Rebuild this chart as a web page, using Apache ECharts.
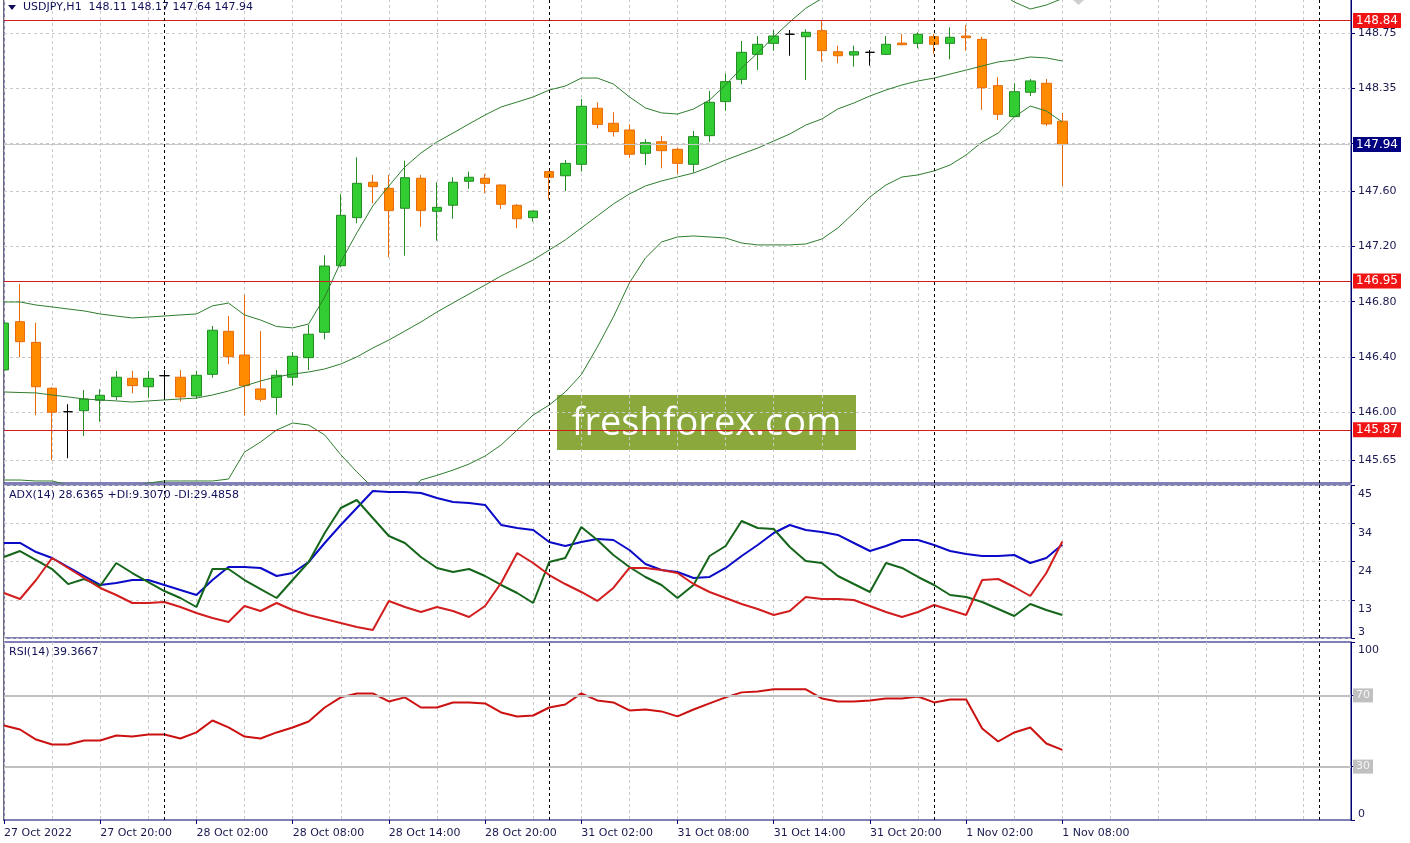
<!DOCTYPE html>
<html><head><meta charset="utf-8">
<script src="https://cdn.jsdelivr.net/npm/echarts@6/dist/echarts.min.js"></script>
<style>html,body{margin:0;padding:0;background:#fff;}#c{width:1410px;height:843px;}</style>
</head><body><div id="c"></div>
<script>
// ---------- DATA ----------
const chartTitle = 'USDJPY,H1  148.11 148.17 147.64 147.94';
const adxTitle = 'ADX(14) 28.6365 +DI:9.3070 -DI:29.4858';
const rsiTitle = 'RSI(14) 39.3667';
const watermark = 'freshforex.com';

const open  = [146.305,146.655,146.505,146.172,146.002,146.009,146.085,146.111,146.244,146.183,146.263,146.252,146.116,146.273,146.585,146.413,146.167,146.106,146.252,146.394,146.578,147.061,147.41,147.667,147.623,147.478,147.696,147.456,147.50,147.674,147.696,147.647,147.50,147.41,147.744,147.714,147.797,148.204,148.095,148.046,147.877,147.961,147.906,147.797,148.005,148.252,148.414,148.595,148.675,148.741,148.723,148.767,148.614,148.59,148.61,148.595,148.677,148.675,148.723,148.675,148.728,148.704,148.368,148.143,148.32,148.385,148.11];
const high  = [146.70,146.929,146.648,146.18,146.056,146.159,146.164,146.297,146.299,146.297,146.304,146.304,146.299,146.624,146.696,146.849,146.587,146.304,146.435,146.631,147.137,147.58,147.848,147.72,147.72,147.823,147.72,147.667,147.703,147.744,147.727,147.65,147.509,147.46,147.75,147.828,148.271,148.247,148.175,148.087,147.979,148.003,147.92,148.039,148.329,148.453,148.692,148.728,148.772,148.772,148.777,148.839,148.658,148.658,148.627,148.728,148.743,148.755,148.743,148.791,148.808,148.723,148.429,148.385,148.416,148.416,148.17];
const low   = [146.27,146.397,145.976,145.651,145.664,145.826,145.929,146.087,146.135,146.103,146.087,146.074,146.094,146.249,146.346,145.976,146.074,145.98,146.191,146.304,146.527,147.05,147.369,147.514,147.122,147.134,147.344,147.243,147.402,147.62,147.587,147.473,147.333,147.381,147.543,147.603,147.744,148.058,147.998,147.845,147.792,147.768,147.727,147.736,147.961,148.186,148.378,148.482,148.622,148.585,148.409,148.542,148.53,148.506,148.513,148.59,148.661,148.639,148.598,148.559,148.622,148.191,148.119,148.14,148.293,148.075,147.64];
const close = [146.645,146.51,146.183,145.998,146.002,146.094,146.121,146.252,146.191,146.244,146.263,146.109,146.266,146.593,146.401,146.191,146.092,146.266,146.404,146.564,147.059,147.427,147.659,147.635,147.461,147.70,147.461,147.485,147.667,147.703,147.659,147.507,147.402,147.458,147.703,147.804,148.218,148.087,148.034,147.87,147.954,147.896,147.804,147.998,148.247,148.397,148.61,148.668,148.728,148.741,148.755,148.622,148.585,148.614,148.61,148.668,148.665,148.741,148.668,148.719,148.716,148.353,148.16,148.324,148.402,148.09,147.94];

const bbUpper  = [146.798,146.798,146.776,146.762,146.747,146.733,146.711,146.696,146.682,146.689,146.696,146.704,146.711,146.77,146.79,146.704,146.667,146.62,146.61,146.638,146.834,147.088,147.299,147.495,147.64,147.778,147.879,147.959,148.024,148.09,148.155,148.213,148.249,148.286,148.336,148.365,148.423,148.423,148.38,148.286,148.206,148.17,148.162,148.198,148.264,148.373,148.496,148.605,148.721,148.83,148.93,149.0,149.06,149.04,149.03,149.03,149.04,149.08,149.1,149.11,149.1,149.06,149.05,148.975,148.924,148.953,149.0];
const bbMiddle = [146.145,146.141,146.138,146.123,146.109,146.094,146.087,146.08,146.072,146.08,146.087,146.094,146.101,146.123,146.152,146.188,146.225,146.254,146.275,146.29,146.312,146.348,146.399,146.464,146.522,146.587,146.653,146.725,146.791,146.856,146.921,146.987,147.045,147.103,147.175,147.248,147.335,147.422,147.509,147.582,147.64,147.676,147.705,147.734,147.778,147.828,147.872,147.915,147.966,148.017,148.082,148.126,148.199,148.242,148.293,148.336,148.373,148.402,148.423,148.452,148.481,148.511,148.54,148.554,148.576,148.569,148.547];
const bbLower  = [145.506,145.506,145.499,145.499,145.47,145.448,145.434,145.441,145.463,145.484,145.499,145.499,145.499,145.499,145.513,145.709,145.782,145.869,145.92,145.905,145.833,145.69,145.565,145.45,145.38,145.40,145.506,145.54,145.578,145.622,145.68,145.76,145.869,145.978,146.05,146.145,146.27,146.471,146.689,146.936,147.117,147.233,147.27,147.277,147.27,147.262,147.226,147.212,147.212,147.212,147.219,147.255,147.335,147.444,147.56,147.647,147.705,147.72,147.749,147.792,147.865,147.959,148.024,148.14,148.22,148.184,148.104];

const adxMain = [29.08,29.08,26.6,24.96,22.49,20.02,17.55,18.1,18.92,18.92,17.55,16.18,14.8,18.92,22.49,22.49,22.22,20.02,20.84,23.86,29.08,34.02,38.69,43.35,43.08,43.08,42.8,41.43,40.33,40.06,39.51,34.02,33.2,32.65,29.35,28.26,29.35,30.18,29.9,27.16,23.31,21.67,21.12,19.47,19.75,22.22,25.51,28.53,31.82,34.02,32.65,32.1,31.28,29.08,26.88,28.26,29.9,29.9,28.53,26.88,26.06,25.51,25.51,25.78,23.59,24.96,28.64];
const plusDI  = [25.24,26.88,24.41,21.94,17.8,19.2,17.28,23.59,20.84,18.37,15.9,13.98,11.51,21.94,21.94,18.92,16.45,13.98,18.92,23.86,31.82,38.69,40.88,35.94,31.0,29.08,25.24,22.22,21.12,21.94,20.02,17.55,15.35,12.61,23.86,24.96,33.47,29.9,25.78,22.49,19.75,17.55,13.98,17.55,25.51,28.26,35.12,33.2,32.92,27.98,24.14,23.59,20.02,17.82,15.63,23.59,22.22,19.75,17.55,14.8,14.26,12.88,10.96,9.04,12.33,10.69,9.31];
const minusDI = [15.35,13.71,18.92,24.96,22.22,19.47,16.73,14.8,12.61,12.61,12.88,11.51,9.86,8.49,7.39,11.79,10.41,12.61,10.69,9.31,8.22,7.12,6.02,5.2,13.16,11.51,10.14,11.51,10.41,8.77,11.79,18.1,26.33,23.59,20.29,17.82,15.63,13.16,16.73,22.22,22.22,21.67,20.84,17.82,15.63,13.98,12.33,10.96,9.31,10.41,14.26,13.71,13.71,13.43,11.79,10.14,8.77,10.14,12.06,10.69,9.31,18.92,19.2,17.0,14.53,20.84,29.49];
const rsi = [53.1,50.85,45.2,42.4,42.4,44.65,44.65,47.5,46.9,48.0,48.0,45.8,49.2,55.9,52.0,46.9,45.8,49.2,52.0,55.35,63.2,68.9,71.1,71.1,66.6,68.9,63.2,63.2,66.05,66.05,65.5,60.4,58.2,58.7,63.2,64.9,71.1,67.2,66.05,61.55,62.1,61.0,58.2,62.1,65.5,68.9,71.7,72.25,73.4,73.4,73.4,68.3,66.6,66.6,67.2,68.3,68.3,69.4,66.05,67.75,67.75,51.4,44.1,49.2,52.0,43.0,39.37];

const priceTicks = [148.75,148.35,147.95,147.60,147.20,146.80,146.40,146.00,145.65];
const priceLabelTicks = [148.75,148.35,147.60,147.20,146.80,146.40,146.00,145.65];
const levelLines = [148.84,146.95,145.87];
const bidPrice = 147.94;
const adxTicks = [45,34.5,24,13.5,3];
const rsiLevels = [70,30];
const timeTickIdx  = [0,6,12,18,24,30,36,42,48,54,60,66];
const timeTickText = ['27 Oct 2022','27 Oct 20:00','28 Oct 02:00','28 Oct 08:00','28 Oct 14:00','28 Oct 20:00','31 Oct 02:00','31 Oct 08:00','31 Oct 14:00','31 Oct 20:00','1 Nov 02:00','1 Nov 08:00'];
const daySeparators = [10,34,58,82];
const totalSlots = 85;

// ---------- CHART ----------
const NAVY = '#00006e', LBL = '#1a1a50', GRIDC = '#c8c8c8', FONT = 'DejaVu Sans';
const cats = Array.from({length: totalSlots}, (_, i) => String(i));
const candleData = open.map((o, i) => {
  const v = [o, close[i], low[i], high[i]];
  if (o === close[i]) return {value: v, itemStyle: {color:'#000', color0:'#000', borderColor:'#000', borderColor0:'#000'}};
  return v;
});
const sepLines = daySeparators.map(i => ({xAxis: i, lineStyle:{color:'#000', type:[3,3], width:1}, label:{show:false}}));
const boxLabel = (txt, bg, fg, fs) => ({show:true, position:'end', formatter: txt, backgroundColor: bg, color: fg, padding:[2,3,1,3], distance:2, fontSize:fs, fontFamily: FONT});

const tickFn = (i) => timeTickIdx.indexOf(i) >= 0;
const xAxes = [0,1,2].map(g => ({
  type:'category', gridIndex:g, data:cats, boundaryGap:false,
  axisLine:{show:false},
  axisTick:{show:g===2, interval:tickFn, length:4, lineStyle:{color:NAVY}},
  axisLabel:{show:g===2, interval:tickFn, align:'left', margin:8, color:LBL, fontSize:11, fontFamily:FONT,
    formatter:(v) => { const k = timeTickIdx.indexOf(Number(v)); return k >= 0 ? timeTickText[k] : ''; }},
  splitLine:{show:true, interval:(i)=> i % 3 === 0, lineStyle:{color:GRIDC, type:[3,3], width:1}}
}));

const lblStyle = {color:LBL, fontSize:11, fontFamily:FONT};
const yAxes = [
  {type:'value', gridIndex:0, position:'right', min:145.4844, max:148.9967,
   axisLine:{show:true, lineStyle:{color:NAVY}},
   axisTick:{show:true, length:4, customValues:priceTicks, lineStyle:{color:NAVY}},
   axisLabel:Object.assign({customValues:priceLabelTicks, margin:7, formatter:v=>Number(v).toFixed(2)}, lblStyle),
   splitLine:{show:true, lineStyle:{color:GRIDC, type:[3,3]}}},
  {type:'value', gridIndex:1, position:'right', min:3, max:45,
   axisLine:{show:true, lineStyle:{color:NAVY}},
   axisTick:{show:true, length:4, customValues:adxTicks, lineStyle:{color:NAVY}},
   axisLabel:Object.assign({customValues:adxTicks.slice(0,4), margin:7, verticalAlign:'top', padding:[4,0,0,0], formatter:v=>String(Math.floor(v))}, lblStyle),
   splitLine:{show:true, lineStyle:{color:GRIDC, type:[3,3]}}},
  {type:'value', gridIndex:1, position:'right', min:3, max:45,
   axisLine:{show:false}, axisTick:{show:false}, splitLine:{show:false},
   axisLabel:Object.assign({customValues:[adxTicks[4]], margin:7, verticalAlign:'bottom', formatter:v=>String(Math.floor(v))}, lblStyle)},
  {type:'value', gridIndex:2, position:'right', min:0, max:100,
   axisLine:{show:true, lineStyle:{color:NAVY}},
   axisTick:{show:true, length:4, customValues:[100,70,30,0], lineStyle:{color:NAVY}},
   axisLabel:Object.assign({customValues:[100], margin:7, verticalAlign:'top', padding:[3,0,0,0]}, lblStyle),
   splitLine:{show:false}},
  {type:'value', gridIndex:2, position:'right', min:0, max:100,
   axisLine:{show:false}, axisTick:{show:false}, splitLine:{show:false},
   axisLabel:Object.assign({customValues:[0], margin:7, verticalAlign:'bottom'}, lblStyle)}
];

const lineS = (name, data, xi, yi, color, width, extra) => Object.assign({
  name, type:'line', xAxisIndex:xi, yAxisIndex:yi, data, symbol:'none', showSymbol:false,
  lineStyle:{color, width}, itemStyle:{color}, silent:true, clip:true
}, extra || {});

const option = {
  animation:false,
  backgroundColor:'#ffffff',
  textStyle:{fontFamily:FONT},
  grid:[
    {left:4, right:59, top:-1, height:484, show:true, borderColor:NAVY, borderWidth:1, outerBoundsMode:'none'},
    {left:4, right:59, top:485, height:153, show:true, borderColor:NAVY, borderWidth:1, outerBoundsMode:'none'},
    {left:4, right:59, top:642, height:178, show:true, borderColor:NAVY, borderWidth:1, outerBoundsMode:'none'}
  ],
  xAxis:xAxes,
  yAxis:yAxes,
  series:[
    {type:'candlestick', xAxisIndex:0, yAxisIndex:0, data:candleData, barWidth:10, silent:true, clip:true,
     itemStyle:{color:'#32cd32', color0:'#ff8c00', borderColor:'#228b22', borderColor0:'#e86a0a', borderWidth:1},
     markLine:{symbol:'none', silent:true, animation:false,
       data:[
         ...levelLines.map(v => ({yAxis:v, lineStyle:{color:'#d01c1c', width:1, type:'solid'}, label:boxLabel(v.toFixed(2), '#f01414', '#ffffff', 12)})),
         {yAxis:bidPrice, lineStyle:{color:'#c8c8c8', width:1, type:'solid'}, label:boxLabel(bidPrice.toFixed(2), '#000080', '#ffffff', 12)},
         ...sepLines
       ]}},
    lineS('BB upper', bbUpper, 0, 0, '#2e7d2e', 1),
    lineS('BB middle', bbMiddle, 0, 0, '#2e7d2e', 1),
    lineS('BB lower', bbLower, 0, 0, '#2e7d2e', 1),
    lineS('ADX', adxMain, 1, 1, '#0a0ac8', 2, {markLine:{symbol:'none', silent:true, animation:false, data:sepLines}}),
    lineS('+DI', plusDI, 1, 1, '#15661a', 2),
    lineS('-DI', minusDI, 1, 1, '#d21e1e', 2),
    lineS('RSI', rsi, 2, 3, '#cc1111', 2, {z:3, markLine:{symbol:'none', silent:true, animation:false,
      data:[
        ...rsiLevels.map(v => ({yAxis:v, lineStyle:{color:'#c0c0c0', width:2, type:'solid'}, label:boxLabel(String(v), '#c0c0c0', '#f4f4f4', 11)})),
        ...sepLines
      ]}})
  ],
  graphic:[
    {type:'rect', z:100, shape:{x:0, y:0, width:3.5, height:822}, style:{fill:'#ffffff'}},
    {type:'line', z:100, shape:{x1:3.5, y1:0, x2:3.5, y2:821}, style:{stroke:'#6a6a80', lineWidth:1}},
    {type:'polygon', z:100, shape:{points:[[8,5],[16,5],[12,10]]}, style:{fill:'#10105a'}},
    {type:'text', z:100, left:23, top:2, style:{text:chartTitle, fill:'#10105a', font:'11px "DejaVu Sans"'}},
    {type:'text', z:100, left:9, top:490, style:{text:adxTitle, fill:'#10105a', font:'11px "DejaVu Sans"'}},
    {type:'text', z:100, left:9, top:647, style:{text:rsiTitle, fill:'#10105a', font:'11px "DejaVu Sans"'}},
    {type:'polygon', z:100, shape:{points:[[1073,0],[1084,0],[1078.5,5]]}, style:{fill:'#cfcfcf'}},
    {type:'group', z:100, left:557, top:395, children:[
      {type:'rect', shape:{x:0, y:0, width:299, height:55}, style:{fill:'#8aa83c'}},
      {type:'text', x:149.5, y:29, style:{text:watermark, fill:'#ffffff', font:'38px "Open Sans"', textAlign:'center', textVerticalAlign:'middle'}}
    ]}
  ]
};

const chart = echarts.init(document.getElementById('c'), null, {renderer:'canvas'});
chart.setOption(option);
</script>
</body></html>
